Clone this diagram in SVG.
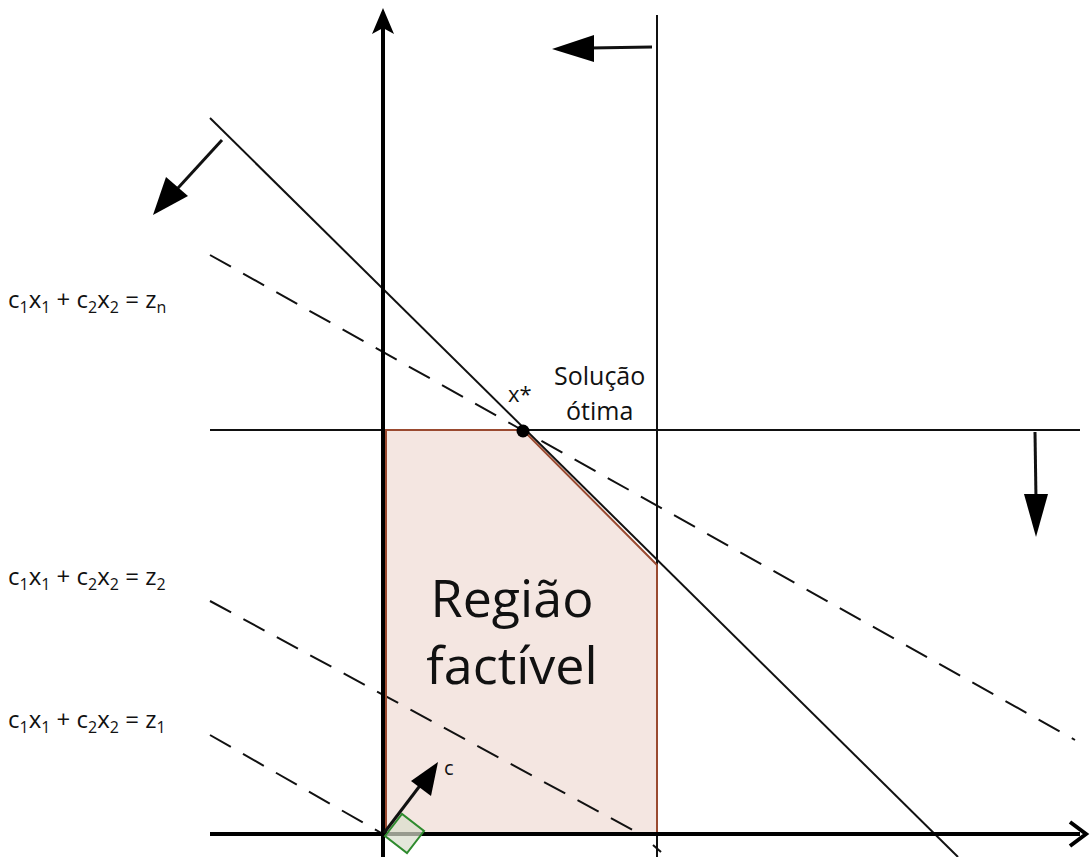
<svg xmlns="http://www.w3.org/2000/svg" width="1090" height="857" viewBox="0 0 1090 857">
<defs>
<style>
.ax{stroke:#000;stroke-width:4;fill:none}
.ln{stroke:#111;stroke-width:2;fill:none}
.da{stroke:#111;stroke-width:2;fill:none;stroke-dasharray:24 14}
.ar{stroke:#111;stroke-width:3;fill:none}
.t{font-family:"Open Sans","Liberation Sans",sans-serif;fill:#111}
.eq{font-size:24px}
.sub{font-size:16px}
</style>
</defs>
<rect width="1090" height="857" fill="#fff"/>
<g id="region">
<polygon points="383,430 523,430 657,565 657,834 383,834" fill="#f4e6e1"/>
</g>
<g id="connectors">
<line class="ln" x1="210" y1="430" x2="1080" y2="430"/>
<line class="ln" x1="657" y1="15" x2="657" y2="857"/>
<line class="ln" x1="210" y1="118" x2="958" y2="857"/>
<line class="da" x1="210" y1="255" x2="1075" y2="740"/>
<line class="da" x1="210" y1="601" x2="640" y2="834"/>
<line class="da" x1="210" y1="735" x2="383" y2="834"/>
<polyline points="386,834 386,430 523,430 657,565 657,834 386,834" fill="none" stroke="#9a4a30" stroke-width="2"/>
<line class="ax" x1="383" y1="857" x2="383" y2="22"/>
<path d="M383,8 L372,34 L383,28 L394,34 Z" fill="#000"/>
<line class="ax" x1="210" y1="834" x2="1080" y2="834"/>
<path d="M1070,822 L1086,834 L1070,846" stroke="#000" stroke-width="4" fill="none"/>
<line class="ln" x1="653" y1="845" x2="661" y2="852"/>
<line class="ar" x1="652" y1="47" x2="590" y2="48"/>
<path d="M552,49 L594,35 L594,62 Z" fill="#000"/>
<line class="ar" x1="222" y1="140" x2="178" y2="188"/>
<path d="M153,215 L166,177 L188,196 Z" fill="#000"/>
<line class="ar" x1="1035" y1="432" x2="1036" y2="500"/>
<path d="M1036,537 L1024,494 L1048,494 Z" fill="#000"/>
<polygon points="385,836 402,814 424,831 407,853" fill="#d9ddcc" fill-opacity="0.7" stroke="#2e8b2e" stroke-width="2"/>
<line class="ar" x1="384" y1="833" x2="425" y2="779"/>
<path d="M438,762 L431,796 L411,781 Z" fill="#000"/>
</g>
<g id="xstar">
<circle cx="523" cy="431" r="6.5" fill="#000"/>
<text class="t" x="508" y="402" font-size="22">x*</text>
<text class="t" x="554" y="385" font-size="25">Solução</text>
<text class="t" x="566" y="420" font-size="25">ótima</text>
</g>
<g id="label-region">
<text class="t" x="512" y="617" font-size="52" text-anchor="middle">Região</text>
<text class="t" x="512" y="684" font-size="52" text-anchor="middle">factível</text>
</g>
<text class="t" x="444" y="775" font-size="20">c</text>
<g id="eq-n">
<text class="t eq" x="8" y="308">c<tspan class="sub" dy="5">1</tspan><tspan dy="-5">x</tspan><tspan class="sub" dy="5">1</tspan><tspan dy="-5"> + c</tspan><tspan class="sub" dy="5">2</tspan><tspan dy="-5">x</tspan><tspan class="sub" dy="5">2</tspan><tspan dy="-5"> = z</tspan><tspan class="sub" dy="5">n</tspan></text>
</g>
<g id="eq-2">
<text class="t eq" x="8" y="585">c<tspan class="sub" dy="5">1</tspan><tspan dy="-5">x</tspan><tspan class="sub" dy="5">1</tspan><tspan dy="-5"> + c</tspan><tspan class="sub" dy="5">2</tspan><tspan dy="-5">x</tspan><tspan class="sub" dy="5">2</tspan><tspan dy="-5"> = z</tspan><tspan class="sub" dy="5">2</tspan></text>
</g>
<g id="eq-1">
<text class="t eq" x="8" y="728">c<tspan class="sub" dy="5">1</tspan><tspan dy="-5">x</tspan><tspan class="sub" dy="5">1</tspan><tspan dy="-5"> + c</tspan><tspan class="sub" dy="5">2</tspan><tspan dy="-5">x</tspan><tspan class="sub" dy="5">2</tspan><tspan dy="-5"> = z</tspan><tspan class="sub" dy="5">1</tspan></text>
</g>
</svg>
